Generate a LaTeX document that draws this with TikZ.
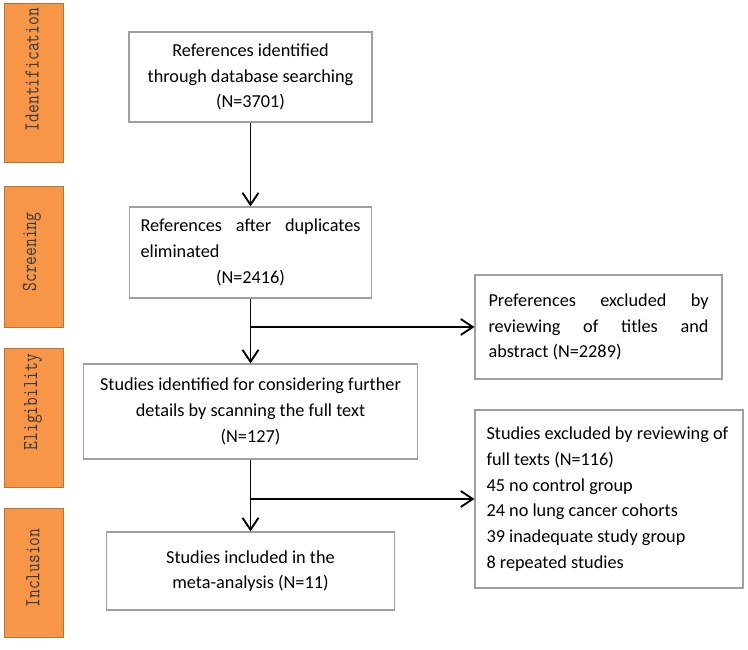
\documentclass[tikz,border=0pt]{standalone}
\usepackage{fontspec}
\usepackage{graphicx}
\setmainfont{Carlito}
\usetikzlibrary{arrows.meta}
\definecolor{sideorange}{HTML}{F79646}
\definecolor{sideedge}{HTML}{B8733A}
\definecolor{boxedge}{HTML}{A0A0A0}
\definecolor{sidetextcol}{HTML}{3A3A3A}
\newcommand{\sidetxt}[1]{\scalebox{0.8}[1]{\ttfamily\fontsize{16pt}{18pt}\selectfont #1}}
\tikzset{
  sidebox/.style={draw=sideedge, fill=sideorange, line width=0.75pt, inner sep=0pt, minimum width=44.25pt},
  sidelabel/.style={text=sidetextcol, inner sep=0pt, rotate=90},
  mainbox/.style={draw=boxedge, line width=0.8pt, inner sep=0pt, align=center,
    font=\fontsize{13.7pt}{19.3pt}\selectfont},
  arr/.style={line width=1.4pt, -{Straight Barb[length=9pt,width=12pt,line width=1.4pt]}}
}
\begin{document}
\begin{tikzpicture}[x=0.75pt,y=-0.75pt]
\useasboundingbox (0,0) rectangle (748,649);
% side stage boxes
\node[sidebox, minimum height=118.5pt] (s1) at (33.5,83) {};
\node[sidebox, minimum height=105.75pt] (s2) at (33.5,256.5) {};
\node[sidebox, minimum height=104.25pt] (s3) at (34,417.5) {};
\node[sidebox, minimum height=96.75pt] (s4) at (34,572.5) {};
\node[sidelabel] (l1) at (32,69.5) {\sidetxt{Identification}};
\node[sidelabel] (l2) at (32,252) {\sidetxt{Screening}};
\node[sidelabel] (l3) at (33,402) {\sidetxt{Eligibility}};
\node[sidelabel] (l4) at (33,568) {\sidetxt{Inclusion}};
% main boxes
\node[mainbox, minimum width=182.25pt, minimum height=67.5pt] (b1) at (250.5,77)
  {References identified\\through database searching\\(N=3701)};
\node[mainbox, minimum width=181.5pt, minimum height=68.25pt] (b2) at (250.5,252.5)
  {\makebox[165pt][s]{References after duplicates}\\\makebox[165pt][l]{eliminated}\\(N=2416)};
\node[mainbox, minimum width=185.25pt, minimum height=78pt] (b3) at (598.5,327)
  {\makebox[165pt][s]{Preferences excluded by}\\\makebox[165pt][s]{reviewing of titles and}\\\makebox[165pt][l]{abstract (N=2289)}};
\node[mainbox, minimum width=250.5pt, minimum height=71.25pt] (b4) at (250.5,411.5)
  {Studies identified for considering further\\details by scanning the full text\\(N=127)};
\node[mainbox, minimum width=201pt, minimum height=133.5pt] (b5) at (609,499)
  {\makebox[183.75pt][l]{Studies excluded by reviewing of}\\\makebox[183.75pt][l]{full texts (N=116)}\\\makebox[183.75pt][l]{45 no control group}\\\makebox[183.75pt][l]{24 no lung cancer cohorts}\\\makebox[183.75pt][l]{39 inadequate study group}\\\makebox[183.75pt][l]{8 repeated studies}};
\node[mainbox, minimum width=216pt, minimum height=58.5pt] (b6) at (250.5,571)
  {Studies included in the\\meta-analysis (N=11)};
% connectors
\draw[arr] (b1) -- (b2);
\draw[arr] (b2) -- (b4);
\draw[arr] (b4) -- (b6);
\draw[arr] (b2.south |- b3.west) -- (b3.west);
\draw[arr] (b4.south |- b5.west) -- (b5.west);
\end{tikzpicture}
\end{document}
